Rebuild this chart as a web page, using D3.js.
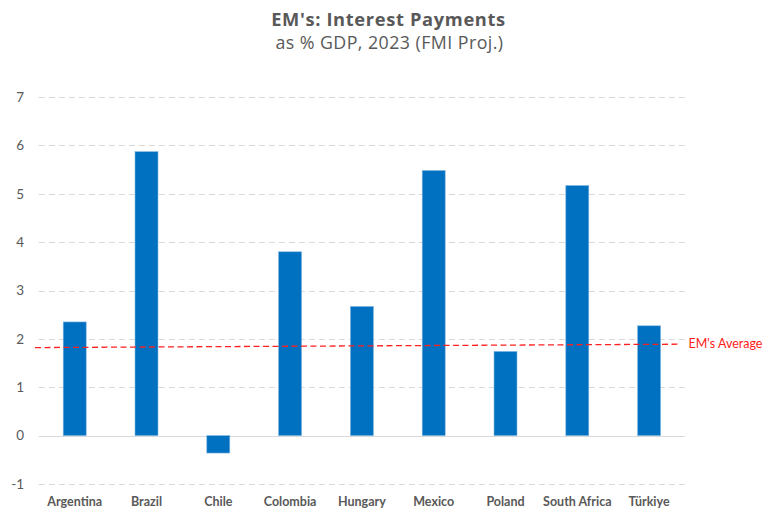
<!DOCTYPE html>
<html>
<head>
<meta charset="utf-8">
<script src="https://cdn.jsdelivr.net/npm/d3@7/dist/d3.min.js"></script>
<style>
  html, body { margin: 0; padding: 0; background: #fff; }
  svg { display: block; font-family: Lato, "Open Sans", sans-serif; }
</style>
</head>
<body>
<svg id="chart" width="764" height="509"></svg>
<script>
// Interest payments as % of GDP, 2023 projections
const countries = ["Argentina", "Brazil", "Chile", "Colombia", "Hungary", "Mexico", "Poland", "South Africa", "Türkiye"];
const interestPayments = [2.35, 5.87, -0.36, 3.80, 2.67, 5.48, 1.74, 5.17, 2.27];
const yTicks = [-1, 0, 1, 2, 3, 4, 5, 6, 7];
// EM average reference line (left end, right end)
const emAverage = [1.82, 1.89];
const averageLabel = "EM's Average";

const svg = d3.select("#chart");
const margin = { left: 38.8, right: 79, top: 97, bottom: 25 };
const W = 764, H = 509;

const x = d3.scaleBand()
  .domain(countries)
  .range([margin.left, W - margin.right])
  .paddingInner(0.68)
  .paddingOuter(0.34);

const y = d3.scaleLinear()
  .domain([-1, 7])
  .range([484, 97]);

// Title
svg.append("text")
  .attr("x", 388.5).attr("y", 25.5)
  .attr("text-anchor", "middle")
  .attr("font-family", "'Open Sans', sans-serif")
  .attr("font-size", 18.3).attr("font-weight", 700)
  .attr("letter-spacing", 0.65)
  .attr("fill", "#595959")
  .text("EM's: Interest Payments");
svg.append("text")
  .attr("x", 389.5).attr("y", 48.5)
  .attr("text-anchor", "middle")
  .attr("font-family", "'Open Sans', sans-serif")
  .attr("font-size", 17.8)
  .attr("letter-spacing", 0.45)
  .attr("fill", "#595959")
  .text("as % GDP, 2023 (FMI Proj.)");

// Gridlines
const gridG = svg.append("g");
gridG.selectAll("line")
  .data(yTicks)
  .join("line")
  .attr("x1", margin.left).attr("x2", W - margin.right)
  .attr("y1", d => Math.round(y(d)) + 0.5).attr("y2", d => Math.round(y(d)) + 0.5)
  .attr("stroke", "#d9d9d9")
  .attr("stroke-width", 1)
  .attr("stroke-dasharray", d => d === 0 ? null : "6,4");

// Y axis labels
const yAxis = d3.axisLeft(y).tickValues(yTicks).tickSize(0).tickPadding(0).tickFormat(d => String(d));
const yG = svg.append("g").attr("transform", "translate(24,0)").call(yAxis);
yG.select(".domain").remove();
yG.selectAll("text")
  .attr("font-family", "Lato, 'Open Sans', sans-serif")
  .attr("font-size", 13.5)
  .attr("fill", "#595959");

// Bars
svg.append("g")
  .selectAll("rect")
  .data(countries.map((c, i) => ({ c, v: interestPayments[i] })))
  .join("rect")
  .attr("x", d => x(d.c))
  .attr("width", x.bandwidth())
  .attr("y", d => y(Math.max(0, d.v)))
  .attr("height", d => Math.abs(y(d.v) - y(0)))
  .attr("fill", "#0070c0")
  .attr("stroke", "#7fb4e0")
  .attr("stroke-width", 0.6);

// X axis labels
const xAxis = d3.axisBottom(x).tickSize(0).tickPadding(0);
const xG = svg.append("g").attr("transform", "translate(0,497)").call(xAxis);
xG.select(".domain").remove();
xG.selectAll("text")
  .attr("font-family", "Lato, 'Open Sans', sans-serif")
  .attr("font-size", 12.5)
  .attr("font-weight", 700)
  .attr("fill", "#595959");

// EM average line
const avgX0 = 35, avgX1 = 678;
svg.append("line")
  .attr("x1", avgX0).attr("x2", avgX1)
  .attr("y1", y(emAverage[0])).attr("y2", y(emAverage[1]))
  .attr("stroke", "#ff2020")
  .attr("stroke-width", 1.3)
  .attr("stroke-dasharray", "6,3.5");

svg.append("text")
  .attr("x", 688.5).attr("y", 348.3)
  .attr("font-size", 12.5)
  .attr("fill", "#ff1a1a")
  .text(averageLabel);
</script>
</body>
</html>
